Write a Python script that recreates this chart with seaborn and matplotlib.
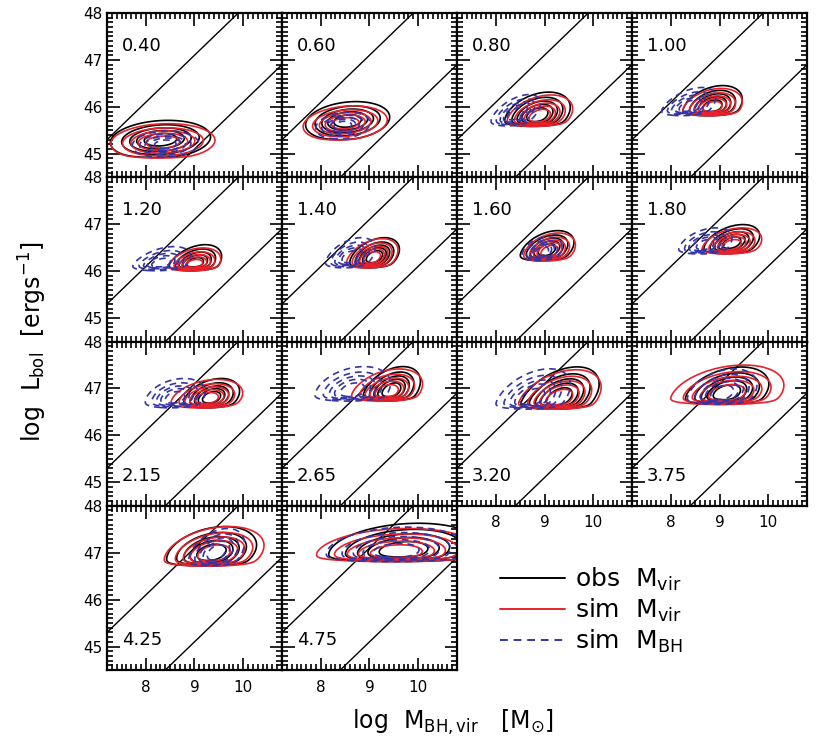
import numpy as np
import matplotlib
matplotlib.use('Agg')
import matplotlib.pyplot as plt
import seaborn as sns
from matplotlib.lines import Line2D
from matplotlib.ticker import MultipleLocator

# redshift of each panel and the luminosity floor of the sample there
redshifts = ['0.40', '0.60', '0.80', '1.00', '1.20', '1.40', '1.60', '1.80',
             '2.15', '2.65', '3.20', '3.75', '4.25', '4.75']
lum_floor = [44.9, 45.25, 45.62, 45.85, 46.05, 46.1, 46.25, 46.4,
             46.62, 46.77, 46.6, 46.7, 46.75, 46.85]

# contour blobs: (mass centre, lum centre, mass width, lum width, tilt)
obs_vir = [(8.30, 45.30, 0.50, 0.20, 0.15), (8.55, 45.70, 0.42, 0.20, 0.20),
           (8.85, 45.82, 0.33, 0.24, 0.35), (8.85, 46.00, 0.30, 0.22, 0.35),
           (9.00, 46.15, 0.27, 0.20, 0.40), (9.10, 46.30, 0.25, 0.20, 0.40),
           (9.05, 46.45, 0.27, 0.20, 0.40), (9.25, 46.60, 0.28, 0.19, 0.40),
           (9.35, 46.80, 0.28, 0.20, 0.35), (9.45, 46.95, 0.29, 0.25, 0.40),
           (9.30, 46.80, 0.40, 0.32, 0.45), (9.15, 46.90, 0.42, 0.27, 0.35),
           (9.35, 47.00, 0.45, 0.27, 0.30), (9.70, 47.05, 0.75, 0.28, 0.20)]
sim_vir = [(8.35, 45.25, 0.52, 0.19, 0.10), (8.50, 45.65, 0.42, 0.18, 0.20),
           (8.90, 45.80, 0.33, 0.22, 0.35), (8.85, 45.98, 0.30, 0.20, 0.30),
           (8.98, 46.12, 0.27, 0.18, 0.35), (9.05, 46.28, 0.26, 0.20, 0.40),
           (9.10, 46.42, 0.26, 0.19, 0.35), (9.25, 46.55, 0.30, 0.18, 0.35),
           (9.25, 46.78, 0.36, 0.20, 0.30), (9.35, 46.92, 0.36, 0.24, 0.35),
           (9.30, 46.78, 0.42, 0.30, 0.40), (9.15, 46.88, 0.57, 0.30, 0.30),
           (9.40, 46.98, 0.50, 0.28, 0.30), (9.55, 47.00, 0.80, 0.25, 0.15)]
sim_bh = [(8.40, 45.20, 0.33, 0.14, 0.10), (8.45, 45.60, 0.27, 0.14, 0.20),
          (8.40, 45.85, 0.25, 0.20, 0.55), (8.35, 46.00, 0.28, 0.20, 0.50),
          (8.30, 46.15, 0.30, 0.18, 0.45), (8.60, 46.30, 0.25, 0.20, 0.45),
          (8.95, 46.42, 0.20, 0.15, 0.30), (8.70, 46.55, 0.27, 0.18, 0.40),
          (8.60, 46.80, 0.30, 0.20, 0.30), (8.65, 46.95, 0.38, 0.25, 0.30),
          (8.75, 46.80, 0.38, 0.30, 0.45), (9.05, 46.90, 0.35, 0.25, 0.35),
          (9.45, 47.00, 0.28, 0.25, 0.40), (9.55, 47.03, 0.70, 0.25, 0.15)]

log_edd_ratio = [0.0, -2.0]   # Eddington ratio lines
levels = [0.12, 0.28, 0.45, 0.62, 0.8]

red = '#e8212b'
blue = '#3434a6'

sns.set_style('ticks')
plt.rcParams['font.family'] = ['DejaVu Sans']
plt.rcParams['mathtext.default'] = 'regular'
plt.rcParams['text.color'] = 'black'
plt.rcParams['xtick.color'] = 'black'
plt.rcParams['ytick.color'] = 'black'

W, H = 823, 747
fig = plt.figure(figsize=(W / 100, H / 100), dpi=100)

xlim = (7.2, 10.8)
ylim = (44.5, 48.0)
gx = np.linspace(xlim[0], xlim[1], 260)
gy = np.linspace(ylim[0], ylim[1], 260)
X, Y = np.meshgrid(gx, gy)


def density(blob, floor):
    mx, my, sx, sy, rho = blob
    u = (X - mx) / sx
    v = (Y - my) / sy
    q = (u * u - 2 * rho * u * v + v * v) / (2 * (1 - rho ** 2))
    z = np.exp(-q) / (1 + np.exp(-(Y - floor) / 0.025))
    return z / z.max()


left0, top0, pw, ph = 107, 13, 175, 164.25
for i, z in enumerate(redshifts):
    r, c = divmod(i, 4)
    ax = fig.add_axes([(left0 + c * pw) / W, 1 - (top0 + (r + 1) * ph) / H, pw / W, ph / H])

    for le in log_edd_ratio:
        xs = np.array(xlim)
        sns.lineplot(x=xs, y=xs + 38.1 + le, ax=ax, color='black', lw=1.0, legend=False)

    ax.contour(X, Y, density(obs_vir[i], lum_floor[i]), levels=levels,
               colors='black', linewidths=1.2)
    ax.contour(X, Y, density(sim_vir[i], lum_floor[i]), levels=levels,
               colors=red, linewidths=1.2)
    ax.contour(X, Y, density(sim_bh[i], lum_floor[i]), levels=levels,
               colors=blue, linewidths=1.2, linestyles=[(0, (4, 3))])

    ax.set_xlim(xlim)
    ax.set_ylim(ylim)
    ax.xaxis.set_major_locator(MultipleLocator(1))
    ax.xaxis.set_minor_locator(MultipleLocator(0.1))
    ax.yaxis.set_major_locator(MultipleLocator(1))
    ax.yaxis.set_minor_locator(MultipleLocator(0.1))
    ax.tick_params(which='both', direction='in', top=True, right=True,
                   width=1.2, color='black', labelcolor='black', labelsize=11)
    ax.tick_params(which='major', length=9)
    ax.tick_params(which='minor', length=4)
    ax.tick_params(axis='x', pad=7)
    for s in ax.spines.values():
        s.set_linewidth(1.6)
        s.set_color('black')

    show_x = (r == 3) or (r == 2 and c >= 2)
    if not show_x:
        ax.set_xticklabels([])
    if c != 0:
        ax.set_yticklabels([])
    ax.set_xlabel('')
    ax.set_ylabel('')

    ty = 0.80 if r < 2 else 0.18
    ax.text(0.085, ty, z, transform=ax.transAxes, fontsize=13, va='center', ha='left')

fig.text(453 / W, 1 - 722 / H, r'log  M$_{BH,vir}$   [M$_{\odot}$]',
         fontsize=17, ha='center', va='center')
fig.text(33 / W, 1 - 342 / H, r'log  L$_{bol}$  [ergs$^{-1}$]',
         fontsize=17, ha='center', va='center', rotation=90)

handles = [Line2D([], [], color='black', lw=1.4),
           Line2D([], [], color=red, lw=1.4),
           Line2D([], [], color=blue, lw=1.4, ls=(0, (4, 3)))]
labels = [r'obs  M$_{vir}$', r'sim  M$_{vir}$', r'sim  M$_{BH}$']
fig.legend(handles, labels, loc='upper left', bbox_to_anchor=(500 / W, 1 - 566 / H),
           frameon=False, fontsize=18, handlelength=2.6, handletextpad=0.4,
           labelspacing=0.15, borderpad=0, borderaxespad=0)

fig.savefig('out.png', dpi=100)
